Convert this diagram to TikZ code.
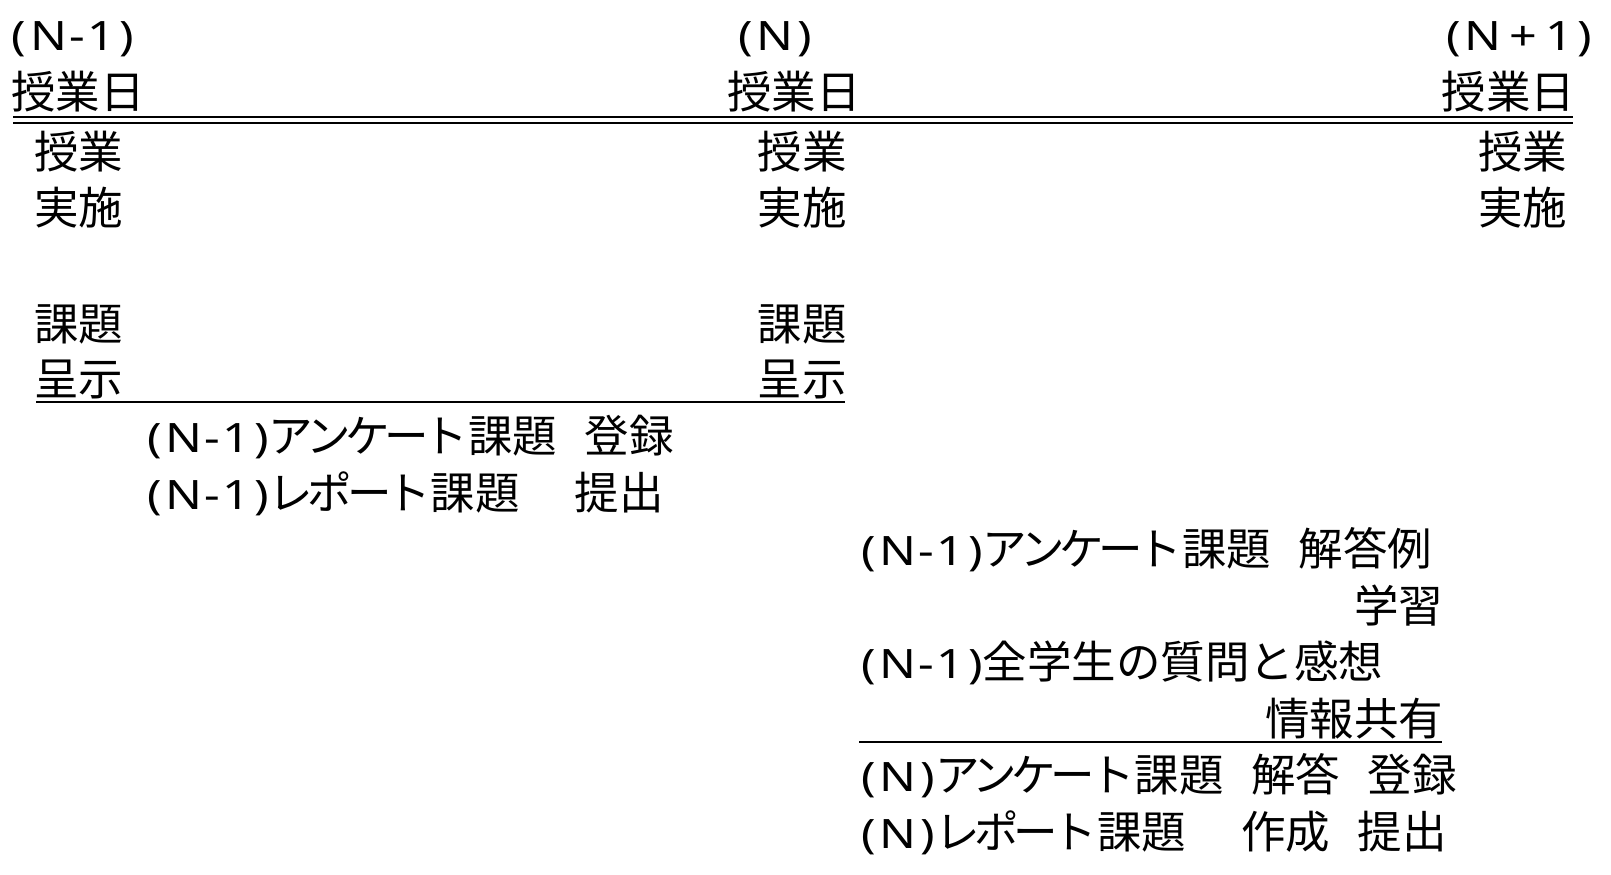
\documentclass[tikz,border=0pt]{standalone}
\usepackage{fontspec}
\setmainfont{Noto Sans CJK JP}
\newfontfamily\latf[FakeStretch=1.2]{Noto Sans}
\newfontfamily\kanaf[LetterSpace=-12]{Noto Sans CJK JP}
\newcommand\pn[1]{{\latf\fontsize{40.5}{40.5}\selectfont(\kern.1em#1\kern.1em)}}
\newcommand\mi{\kern.05em-\kern.05em}
\newcommand\pl{\kern.2em+\kern.2em}
\newcommand\ka[1]{{\kanaf #1}}
\newcommand\gp{\hspace{0.62em}}
\begin{document}
\begin{tikzpicture}[x=1pt,y=-1pt,
  t/.style={inner sep=0pt, outer sep=0pt, font=\fontsize{44.5}{57}\selectfont},
  rule/.style={line width=2.5pt}]
\useasboundingbox (0,0) rectangle (1611,875);
% headings
\node[t,anchor=base west] (h1) at (12,51) {\pn{N\mi1}};
\node[t,anchor=base west] (d1) at (11,108) {授業日};
\node[t,anchor=base west] (h2) at (738,51) {\pn{N}};
\node[t,anchor=base west] (d2) at (727,108) {授業日};
\node[t,anchor=base east] (h3) at (1592,51) {\pn{N\pl1}};
\node[t,anchor=base east] (d3) at (1575,108) {授業日};
% double rule
\coordinate (r1a) at (13,117); \coordinate (r1b) at (1573,117);
\coordinate (r2a) at (13,123); \coordinate (r2b) at (1573,123);
\draw[rule] (r1a) -- (r1b);
\draw[rule] (r2a) -- (r2b);
% left column
\node[t,anchor=base west] (a1) at (34,168) {授業};
\node[t,anchor=base west] (a2) at (34,224) {実施};
\node[t,anchor=base west] (a3) at (34,340) {課題};
\node[t,anchor=base west] (a4) at (34,395) {呈示};
% middle column
\node[t,anchor=base east] (b1) at (846.5,168) {授業};
\node[t,anchor=base east] (b2) at (846.5,224) {実施};
\node[t,anchor=base east] (b3) at (846.5,340) {課題};
\node[t,anchor=base east] (b4) at (846.5,395) {呈示};
% right column
\node[t,anchor=base east] (c1) at (1567,168) {授業};
\node[t,anchor=base east] (c2) at (1567,224) {実施};
% underline left block
\coordinate (u1a) at (36,402); \coordinate (u1b) at (845,402);
\draw[rule] (u1a) -- (u1b);
\node[t,anchor=base west] (l1) at (147,452) {\pn{N\mi1}\ka{アンケート}課題\gp 登録};
\node[t,anchor=base west] (l2) at (147,509) {\pn{N\mi1}\ka{レポート}課題\gp\gp 提出};
% right lower block
\node[t,anchor=base west] (m1) at (861,565) {\pn{N\mi1}\ka{アンケート}課題\gp 解答例};
\node[t,anchor=base east] (m2) at (1443,622) {学習};
\node[t,anchor=base west] (m3) at (861,678) {\pn{N\mi1}全学生の質問と感想};
\node[t,anchor=base east] (m4) at (1443,735) {情報共有};
\coordinate (u2a) at (859,742); \coordinate (u2b) at (1441.5,742);
\draw[rule] (u2a) -- (u2b);
\node[t,anchor=base west] (m5) at (861,791) {\pn{N}\ka{アンケート}課題\gp 解答\gp 登録};
\node[t,anchor=base west] (m6) at (861,848) {\pn{N}\ka{レポート}課題\gp\gp 作成\gp 提出};
\end{tikzpicture}
\end{document}
